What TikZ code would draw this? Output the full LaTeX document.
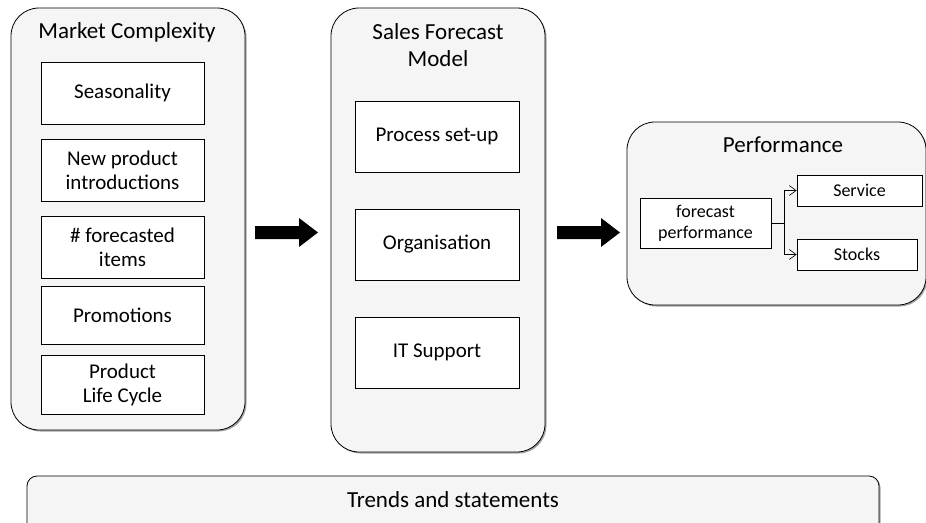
\documentclass[tikz,border=0pt]{standalone}
\usepackage{fontspec}
\setmainfont{Carlito}
\usetikzlibrary{shadows,arrows.meta}
\begin{document}
\begin{tikzpicture}[x=1pt,y=-1pt,
  container/.style={draw=black, line width=0.8pt, fill=gray!8, rounded corners=28pt,
    drop shadow={shadow xshift=1.5pt, shadow yshift=-1.5pt, fill=black!60, opacity=0.6}},
  inner/.style={draw=black, line width=0.6pt, fill=white, align=center, font=\fontsize{21}{24}\selectfont},
  small/.style={draw=black, line width=0.6pt, fill=white, align=center, font=\fontsize{18}{21}\selectfont},
  title/.style={font=\fontsize{23}{27}\selectfont, align=center},
  conn/.style={draw=black, line width=0.6pt},
  tip/.style={-{Straight Barb[length=7pt,width=10pt]}}]
\useasboundingbox (0,0) rectangle (926,522);
% containers
\draw[container] (11,8) rectangle (245,430);
\draw[container] (331,8) rectangle (545,452);
\draw[container] (627,122) rectangle (926,305);
\draw[container, rounded corners=10pt] (27,476) rectangle (879,535);
% titles
\node[title] (t1) at (127,32) {Market Complexity};
\node[title] (t2) at (438,45) {Sales Forecast\\Model};
\node[title] (t3) at (783,145) {Performance};
\node[title] (t4) at (453,500) {Trends and statements};
% left inner boxes
\node[inner, minimum width=163pt, minimum height=62pt] (s1) at (122.5,93) {Seasonality};
\node[inner, minimum width=163pt, minimum height=62pt] (s2) at (122.5,170) {New product\\introductions};
\node[inner, minimum width=163pt, minimum height=62pt] (s3) at (122.5,247) {\# forecasted\\items};
\node[inner, minimum width=163pt, minimum height=58pt] (s4) at (122.5,315) {Promotions};
\node[inner, minimum width=163pt, minimum height=59pt] (s5) at (122.5,384.5) {Product\\Life Cycle};
% middle inner boxes
\node[inner, minimum width=164pt, minimum height=71pt] (m1) at (437,136.5) {Process set-up};
\node[inner, minimum width=164pt, minimum height=71pt] (m2) at (437,244.5) {Organisation};
\node[inner, minimum width=164pt, minimum height=71pt] (m3) at (437,352.5) {IT Support};
% arrows
\fill (255,226) -- (299,226) -- (299,218) -- (318,232.5) -- (299,247) -- (299,239) -- (255,239) -- cycle;
\fill (557,226) -- (601,226) -- (601,218) -- (620,232.5) -- (601,247) -- (601,239) -- (557,239) -- cycle;
% performance
\node[small, minimum width=131pt, minimum height=50pt] (fp) at (705.5,223) {forecast\\performance};
\node[small, minimum width=125pt, minimum height=31pt] (sv) at (859.5,190.5) {Service};
\node[small, minimum width=120pt, minimum height=31pt] (st) at (857,254.5) {Stocks};
\coordinate (j) at (784,223);
\draw[conn] (fp.east) -- (j);
\draw[conn, tip] (j) |- (sv.west);
\draw[conn, tip] (j) |- (st.west);
\end{tikzpicture}
\end{document}
